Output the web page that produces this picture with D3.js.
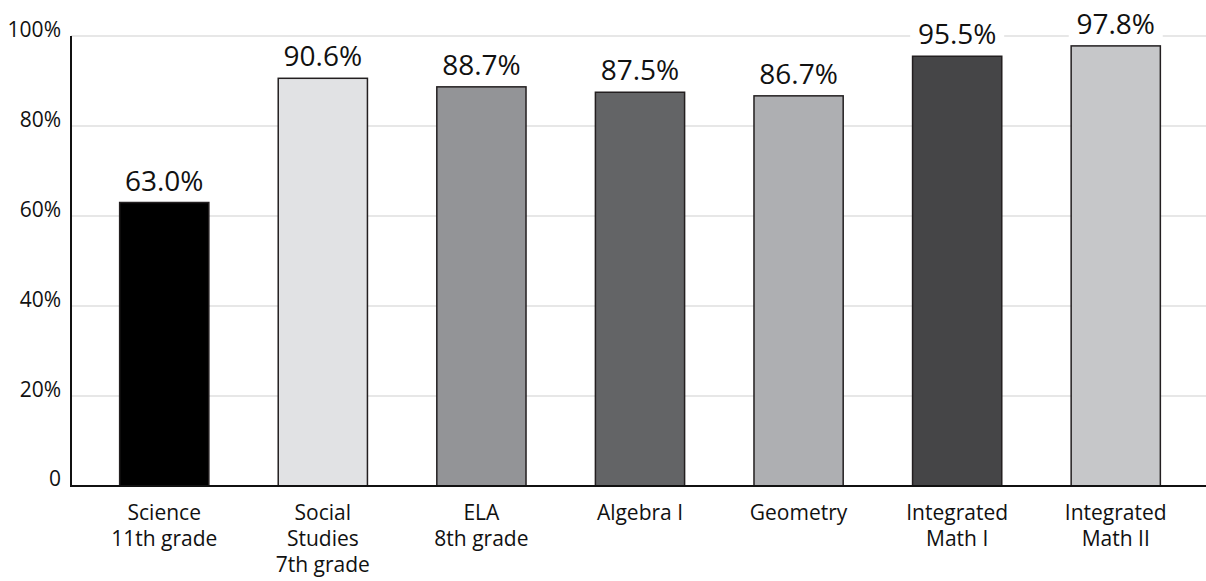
<!DOCTYPE html>
<html>
<head>
<meta charset="utf-8">
<script src="https://cdn.jsdelivr.net/npm/d3@7"></script>
<style>
  body { margin: 0; background: #fff; }
  text { font-family: "Open Sans", "Noto Sans", sans-serif; fill: #111; }
</style>
</head>
<body>
<div class="main"></div>
<script>
// data
const categories = [
  ["Science", "11th grade"],
  ["Social", "Studies", "7th grade"],
  ["ELA", "8th grade"],
  ["Algebra I"],
  ["Geometry"],
  ["Integrated", "Math I"],
  ["Integrated", "Math II"]
];
const values = [63.0, 90.6, 88.7, 87.5, 86.7, 95.5, 97.8];
const barColors = ["#000000", "#e1e2e4", "#939497", "#636466", "#aeafb2", "#454547", "#c6c7c9"];
const yTicks = [0, 20, 40, 60, 80, 100];

let width = 1206, height = 581;
let plotLeft = 71, plotTop = 36, plotBottom = 486;

let svg = d3.select("div.main").append("svg")
  .attr("width", width)
  .attr("height", height);

let x = d3.scaleBand()
  .domain(d3.range(values.length))
  .range([plotLeft + 9, plotLeft + 9 + 160 * values.length])
  .paddingInner(70 / 160)
  .paddingOuter(40 / 160);

let y = d3.scaleLinear()
  .domain([0, 100])
  .range([plotBottom, plotTop]);

// gridlines
svg.append("g")
  .selectAll("line")
  .data(yTicks.filter(d => d > 0))
  .enter().append("line")
    .attr("x1", plotLeft)
    .attr("x2", width)
    .attr("y1", d => y(d))
    .attr("y2", d => y(d))
    .attr("stroke", "#cfcfcf")
    .attr("stroke-width", 1);

// y tick labels
svg.append("g")
  .selectAll("text")
  .data(yTicks)
  .enter().append("text")
    .attr("x", 61)
    .attr("y", d => y(d) + (d === 0 ? 0 : 1))
    .attr("text-anchor", "end")
    .style("font-size", "21px")
    .text(d => d === 0 ? "0" : d + "%");

// bars
svg.append("g")
  .selectAll("rect")
  .data(values)
  .enter().append("rect")
    .attr("x", (d, i) => x(i))
    .attr("y", d => y(d))
    .attr("width", x.bandwidth())
    .attr("height", d => plotBottom - y(d))
    .attr("fill", (d, i) => barColors[i])
    .attr("stroke", "#231f20")
    .attr("stroke-width", 1.5);

// value labels, with white box so gridline is broken behind them
let vl = svg.append("g")
  .selectAll("g")
  .data(values)
  .enter().append("g");

vl.append("rect")
  .attr("x", (d, i) => x(i) + x.bandwidth() / 2 - 47)
  .attr("y", d => y(d) - 36)
  .attr("width", 94)
  .attr("height", 30)
  .attr("fill", "#fff");

vl.append("text")
  .attr("x", (d, i) => x(i) + x.bandwidth() / 2)
  .attr("y", d => y(d) - 12)
  .attr("text-anchor", "middle")
  .style("font-size", "28px")
  .text(d => d.toFixed(1) + "%");

// axes lines
svg.append("line")
  .attr("x1", plotLeft).attr("x2", plotLeft)
  .attr("y1", plotTop).attr("y2", plotBottom + 1)
  .attr("stroke", "#111").attr("stroke-width", 2);
svg.append("line")
  .attr("x1", plotLeft - 1).attr("x2", width)
  .attr("y1", plotBottom).attr("y2", plotBottom)
  .attr("stroke", "#111").attr("stroke-width", 2);

// category labels
let cl = svg.append("g")
  .selectAll("text")
  .data(categories)
  .enter().append("text")
    .attr("x", (d, i) => x(i) + x.bandwidth() / 2)
    .attr("y", 520)
    .attr("text-anchor", "middle")
    .style("font-size", "21px");

cl.selectAll("tspan")
  .data(d => d)
  .enter().append("tspan")
    .attr("x", function() { return d3.select(this.parentNode).attr("x"); })
    .attr("dy", (d, i) => i === 0 ? 0 : 26)
    .text(d => d);
</script>
</body>
</html>
